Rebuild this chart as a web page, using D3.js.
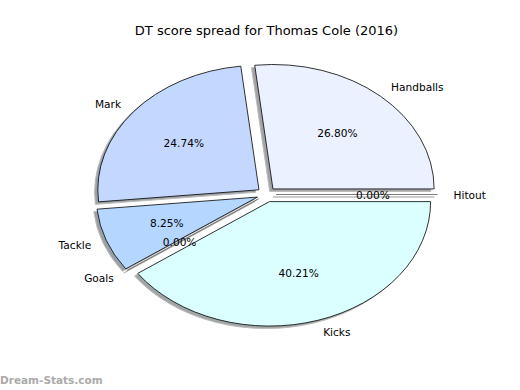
<!DOCTYPE html>
<html>
<head>
<meta charset="utf-8">
<script src="https://cdn.jsdelivr.net/npm/d3@7"></script>
<style>
  body { margin: 0; background: #fff; }
  text { font-family: "DejaVu Sans", sans-serif; }
</style>
</head>
<body>
<div id="chart"></div>
<script>
// DT points per stat (slices go counter-clockwise from 3 o'clock, like matplotlib)
var labels = ["Handballs", "Mark", "Tackle", "Goals", "Kicks", "Hitout"];
var points = [26, 24, 8, 0, 39, 0];
var colors = ["#ebf1ff", "#c4d8ff", "#b5d6ff", "#bcd4ff", "#dbffff", "#e4ecff"];
var explode = [0.06, 0.06, 0.06, 0.06, 0.06, 0.06];
var title = "DT score spread for Thomas Cole (2016)";
var watermark = "Dream-Stats.com";

var width = 520, height = 390;

// axes box like matplotlib defaults, data limits -1.25..1.25
var x = d3.scaleLinear().domain([-1.25, 1.25]).range([65, 468]);
var y = d3.scaleLinear().domain([-1.25, 1.25]).range([350, 39]);
var rx = x(1) - x(0), ry = y(0) - y(1);

var svg = d3.select("#chart")
  .append("svg")
    .attr("width", width)
    .attr("height", height);

var total = d3.sum(points);
var fmt = d3.format(".2f");

var pie = d3.pie()
    .sort(null)
    .value(function(d) { return d; })
    .startAngle(Math.PI / 2)
    .endAngle(Math.PI / 2 - 2 * Math.PI);

var arc = d3.arc().innerRadius(0).outerRadius(1);

var slices = pie(points).map(function(s, i) {
  var a = (s.startAngle + s.endAngle) / 2;
  return {
    s: s, i: i,
    dx: Math.sin(a), dy: Math.cos(a),
    ox: explode[i] * Math.sin(a), oy: explode[i] * Math.cos(a)
  };
});

// shadows first (under all wedges)
svg.append("g").selectAll("path")
  .data(slices)
  .enter().append("path")
    .attr("transform", function(d) {
      return "translate(" + x(d.ox - 0.02) + "," + y(d.oy - 0.02) + ") scale(" + rx + "," + ry + ")";
    })
    .attr("d", function(d) { return arc(d.s); })
    .attr("fill", function(d) {
      var c = d3.rgb(colors[d.i]);
      return d3.rgb(c.r * 0.3, c.g * 0.3, c.b * 0.3);
    })
    .attr("fill-opacity", 0.5)
    .attr("stroke", "#bbb")
    .attr("stroke-width", 1)
    .attr("vector-effect", "non-scaling-stroke");

// wedges
svg.append("g").selectAll("path")
  .data(slices)
  .enter().append("path")
    .attr("transform", function(d) {
      return "translate(" + x(d.ox) + "," + y(d.oy) + ") scale(" + rx + "," + ry + ")";
    })
    .attr("d", function(d) { return arc(d.s); })
    .attr("fill", function(d) { return colors[d.i]; })
    .attr("stroke", function(d) { return points[d.i] ? "#000" : "#777"; })
    .attr("stroke-width", 0.8)
    .attr("vector-effect", "non-scaling-stroke");

// category labels
svg.append("g").selectAll("text")
  .data(slices)
  .enter().append("text")
    .attr("x", function(d) { return x(d.ox + 1.1 * d.dx); })
    .attr("y", function(d) { return y(d.oy + 1.1 * d.dy); })
    .attr("text-anchor", function(d) { return d.dx > 0 ? "start" : "end"; })
    .attr("dominant-baseline", "central")
    .attr("font-size", "10.6px")
    .attr("fill", "#000")
    .text(function(d) { return labels[d.i]; });

// percentages
svg.append("g").selectAll("text")
  .data(slices)
  .enter().append("text")
    .attr("x", function(d) { return x(d.ox + 0.6 * d.dx); })
    .attr("y", function(d) { return y(d.oy + 0.6 * d.dy); })
    .attr("text-anchor", "middle")
    .attr("dominant-baseline", "central")
    .attr("font-size", "10.6px")
    .attr("fill", "#000")
    .text(function(d) { return fmt(points[d.i] / total * 100) + "%"; });

svg.append("text")
    .attr("x", (x.range()[0] + x.range()[1]) / 2)
    .attr("y", 35)
    .attr("text-anchor", "middle")
    .attr("font-size", "13px")
    .text(title);

svg.append("text")
    .attr("x", 0)
    .attr("y", 384)
    .attr("font-size", "10.5px")
    .attr("font-weight", "bold")
    .attr("fill", "#aaa")
    .text(watermark);
</script>
</body>
</html>
